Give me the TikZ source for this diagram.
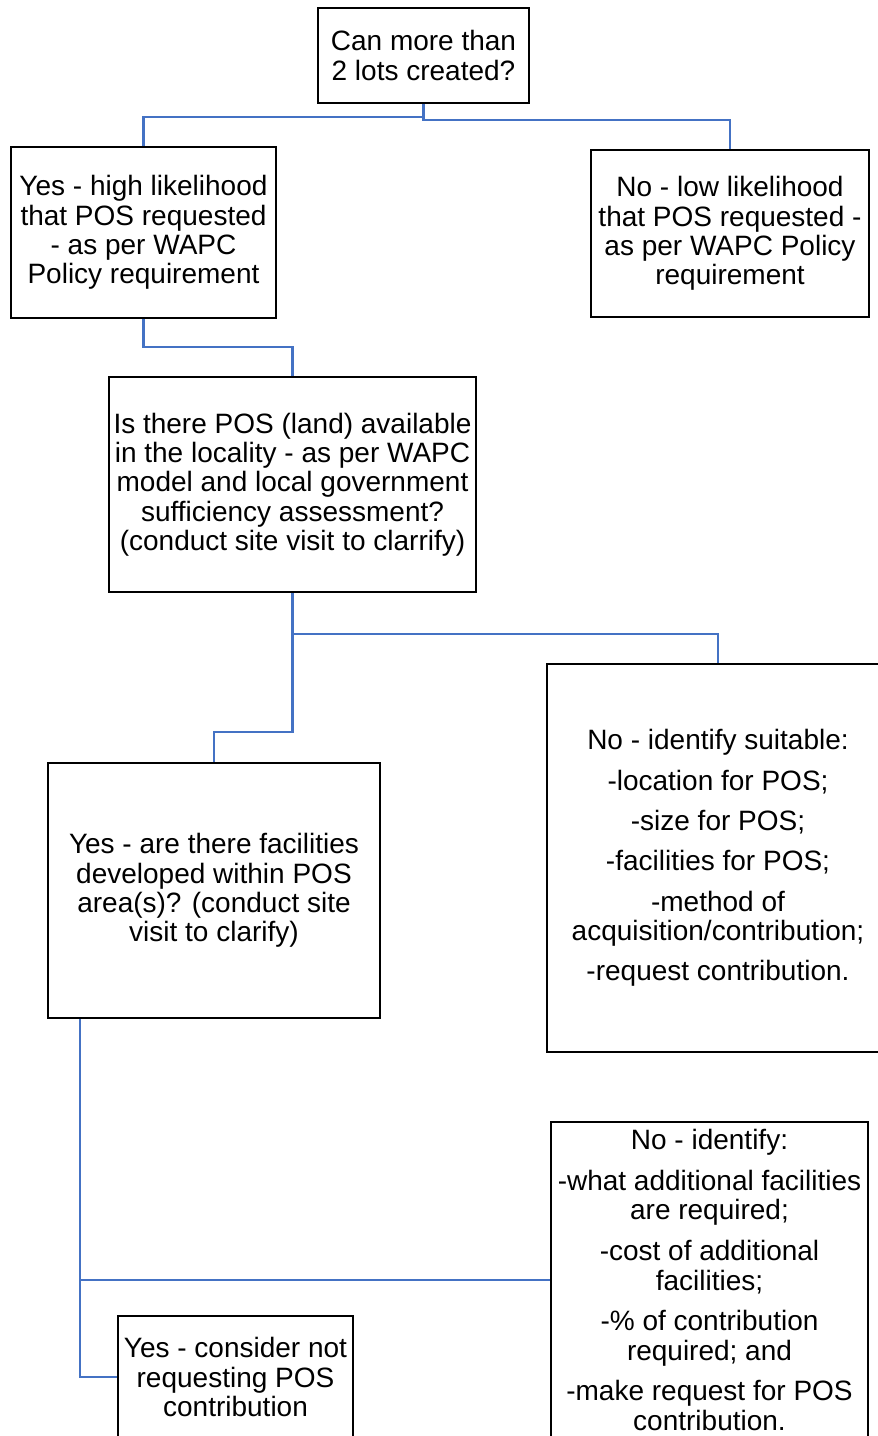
\documentclass[tikz,border=0pt]{standalone}
\usepackage{fontspec}
\setmainfont{Liberation Sans}
\usetikzlibrary{calc}
\definecolor{conn}{HTML}{4472C4}
\tikzset{
  box/.style={draw=black, line width=2.5pt, align=center, inner sep=0pt,
    font=\fontsize{28}{29.3}\selectfont},
  link/.style={draw=conn, line width=2.2pt}
}
\begin{document}
\begin{tikzpicture}[x=1pt,y=-1pt]
\useasboundingbox (0,0) rectangle (878,1436);
\clip (0,0) rectangle (878,1436);
\fill[white] (0,0) rectangle (878,1436);

\node[box, minimum width=211pt, minimum height=95pt] (b1) at (423.5,55.5)
  {Can more than\\2 lots created?};
\node[box, minimum width=265pt, minimum height=171pt] (b2) at (143.5,232.5)
  {Yes - high likelihood\\that POS requested\\- as per WAPC\\Policy requirement};
\node[box, minimum width=278pt, minimum height=167pt] (b3) at (730,233.5)
  {No - low likelihood\\that POS requested -\\as per WAPC Policy\\requirement};
\node[box, minimum width=367pt, minimum height=215pt] (b4) at (292.5,484.5)
  {Is there POS (land) available\\in the locality - as per WAPC\\model and local government\\sufficiency assessment?\\(conduct site visit to clarrify)};
\node[box, minimum width=342pt, minimum height=388pt] (b5) at (718,858)
  {No - identify suitable:\\[11pt]-location for POS;\\[11pt]-size for POS;\\[11pt]-facilities for POS;\\[11pt]-method of\\acquisition/contribution;\\[11pt]-request contribution.};
\node[box, minimum width=332pt, minimum height=255pt] (b6) at (214,890.5)
  {Yes - are there facilities\\developed within POS\\area(s)? (conduct site\\visit to clarify)};
\node[box, minimum width=317pt, minimum height=316pt] (b7) at (709.5,1280)
  {No - identify:\\[11.5pt]-what additional facilities\\are required;\\[11.5pt]-cost of additional\\facilities;\\[11.5pt]-\% of contribution\\required; and\\[11.5pt]-make request for POS\\contribution.};
\node[box, minimum width=235pt, minimum height=122pt] (b8) at (235.5,1377)
  {Yes - consider not\\requesting POS\\contribution};

\draw[link] (b1.south) -- (b1.south |- 0,117) -| (b2.north);
\draw[link] (b1.south) -- (b1.south |- 0,120) -| (b3.north);
\draw[link] (b2.south) -- (b2.south |- 0,347) -| (b4.north);
\draw[link] (b4.south) -- (b4.south |- 0,634) -| (b5.north);
\draw[link] (b4.south) -- (b4.south |- 0,732) -| (b6.north);
\draw[link] ([xshift=33pt]b6.south west) |- (b7.west);
\draw[link] ([xshift=33pt]b6.south west) |- (b8.west);
\end{tikzpicture}
\end{document}
